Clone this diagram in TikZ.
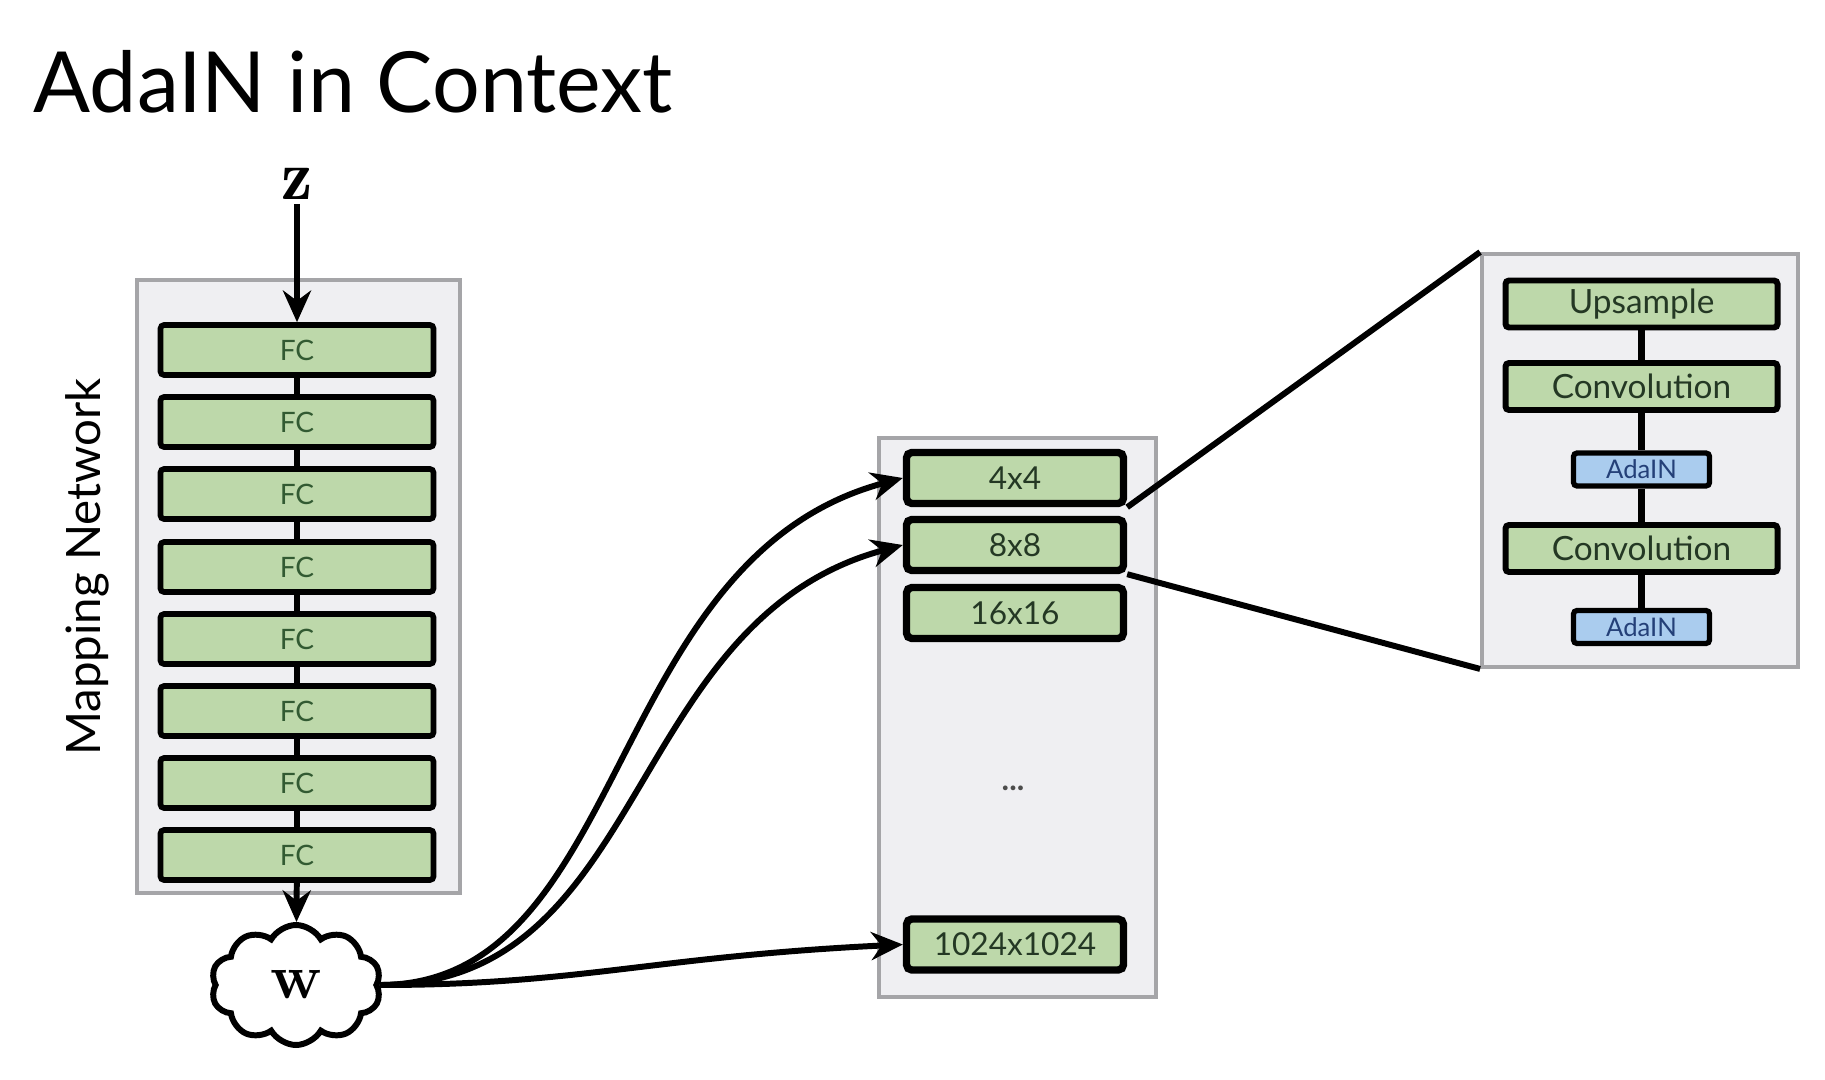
\documentclass[tikz,border=0pt]{standalone}
\usepackage{fontspec}
\newfontfamily\lato{Lato}
\usetikzlibrary{arrows.meta, shapes.symbols}
\definecolor{panelgray}{RGB}{239,239,242}
\definecolor{panelline}{RGB}{165,165,168}
\definecolor{boxgreen}{RGB}{189,216,170}
\definecolor{textgreen}{RGB}{50,90,50}
\definecolor{darkgreen}{RGB}{36,56,36}
\definecolor{boxblue}{RGB}{170,204,238}
\definecolor{textblue}{RGB}{36,64,120}

\begin{document}
\begin{tikzpicture}[>={Stealth[length=9pt, width=8pt]},
        panel/.style={draw=panelline, line width=1.1pt, fill=panelgray, inner sep=0pt},
        fc/.style={draw=black, line width=1.6pt, fill=boxgreen, rounded corners=1pt, minimum width=2.73cm, minimum height=0.5cm, inner sep=0pt, font=\lato\fontsize{8}{8}\selectfont, text=textgreen},
        res/.style={draw=black, line width=2.1pt, fill=boxgreen, rounded corners=1.5pt, minimum width=2.17cm, minimum height=0.51cm, inner sep=0pt, font=\lato\fontsize{9}{10}\selectfont, text=darkgreen},
        layer/.style={draw=black, line width=1.7pt, fill=boxgreen, rounded corners=1pt, minimum width=2.72cm, minimum height=0.47cm, inner sep=0pt, font=\lato\fontsize{9.5}{10}\selectfont, text=darkgreen},
        ada/.style={draw=black, line width=1.5pt, fill=boxblue, rounded corners=1pt, minimum width=1.36cm, minimum height=0.33cm, inner sep=0pt, font=\lato\fontsize{7.3}{8}\selectfont, text=textblue}]

        \useasboundingbox (0,0) rectangle (18.25,-10.8);

        % Title
        \node[anchor=base west, inner sep=0pt, font=\lato\fontsize{24}{28}\selectfont] (title) at (0.33,-1.13) {AdaIN in Context};

        % Panels
        \node[panel, minimum width=3.23cm, minimum height=6.13cm] (mapping) at (2.985,-5.865) {};
        \node[panel, minimum width=2.77cm, minimum height=5.59cm] (synth) at (10.175,-7.175) {};
        \node[panel, minimum width=3.16cm, minimum height=4.13cm] (zoom) at (16.40,-4.605) {};

        \node[rotate=90, anchor=base, inner sep=0pt, font=\lato\fontsize{13.5}{14}\selectfont] (maplabel) at (1.00,-5.67) {Mapping Network};

        % Mapping network
        \node[inner sep=1pt, font=\fontsize{20}{20}\selectfont] (z) at (2.97,-1.84) {$\mathbf{z}$};
        \node[fc] (fc1) at (2.97,-3.50) {FC};
        \node[fc] (fc2) at (2.97,-4.22) {FC};
        \node[fc] (fc3) at (2.97,-4.94) {FC};
        \node[fc] (fc4) at (2.97,-5.67) {FC};
        \node[fc] (fc5) at (2.97,-6.39) {FC};
        \node[fc] (fc6) at (2.97,-7.11) {FC};
        \node[fc] (fc7) at (2.97,-7.83) {FC};
        \node[fc] (fc8) at (2.97,-8.55) {FC};
        \node[cloud, draw, line width=1.7pt, fill=white, cloud puffs=10, cloud puff arc=120, aspect=1.4, minimum width=1.7cm, minimum height=1.2cm, inner sep=0pt, font=\bfseries\fontsize{18}{18}\selectfont] (w) at (2.96,-9.85) {w};

        % Synthesis network
        \node[res] (s4) at (10.15,-4.78) {4x4};
        \node[res] (s8) at (10.15,-5.45) {8x8};
        \node[res] (s16) at (10.15,-6.13) {16x16};
        \node[font=\lato\bfseries\fontsize{9}{10}\selectfont, text=black!70] (dots) at (10.13,-7.88) {...};
        \node[res] (s1024) at (10.15,-9.445) {1024x1024};

        % Synthesis block
        \node[layer] (up) at (16.415,-3.04) {Upsample};
        \node[layer] (conv1) at (16.415,-3.865) {Convolution};
        \node[ada] (ada1) at (16.415,-4.695) {AdaIN};
        \node[layer] (conv2) at (16.415,-5.485) {Convolution};
        \node[ada] (ada2) at (16.415,-6.27) {AdaIN};

        % Connectors
        \draw[->, line width=1.7pt] (z) -- (fc1);
        \draw[line width=1.7pt] (fc1) -- (fc2);
        \draw[line width=1.7pt] (fc2) -- (fc3);
        \draw[line width=1.7pt] (fc3) -- (fc4);
        \draw[line width=1.7pt] (fc4) -- (fc5);
        \draw[line width=1.7pt] (fc5) -- (fc6);
        \draw[line width=1.7pt] (fc6) -- (fc7);
        \draw[line width=1.7pt] (fc7) -- (fc8);
        \draw[->, line width=1.7pt] (fc8) -- (w);

        \draw[line width=1.9pt] (up) -- (conv1);
        \draw[line width=1.9pt] (conv1) -- (ada1);
        \draw[line width=1.9pt] (ada1) -- (conv2);
        \draw[line width=1.9pt] (conv2) -- (ada2);

        \draw[line width=1.7pt] (s4.south east) -- (zoom.north west);
        \draw[line width=1.7pt] (s8.south east) -- (zoom.south west);

        % Styles into the synthesis network
        \draw[->, line width=1.7pt] (w.east) .. controls +(2.5,0) and +(-3.0,-0.8) .. (s4.west);
        \draw[->, line width=1.7pt] (w.east) .. controls +(2.7,0) and +(-2.8,-0.75) .. (s8.west);
        \draw[->, line width=1.7pt] (w.east) .. controls +(2.0,0) and +(-2.5,-0.12) .. (s1024.west);
    \end{tikzpicture}
\end{document}
